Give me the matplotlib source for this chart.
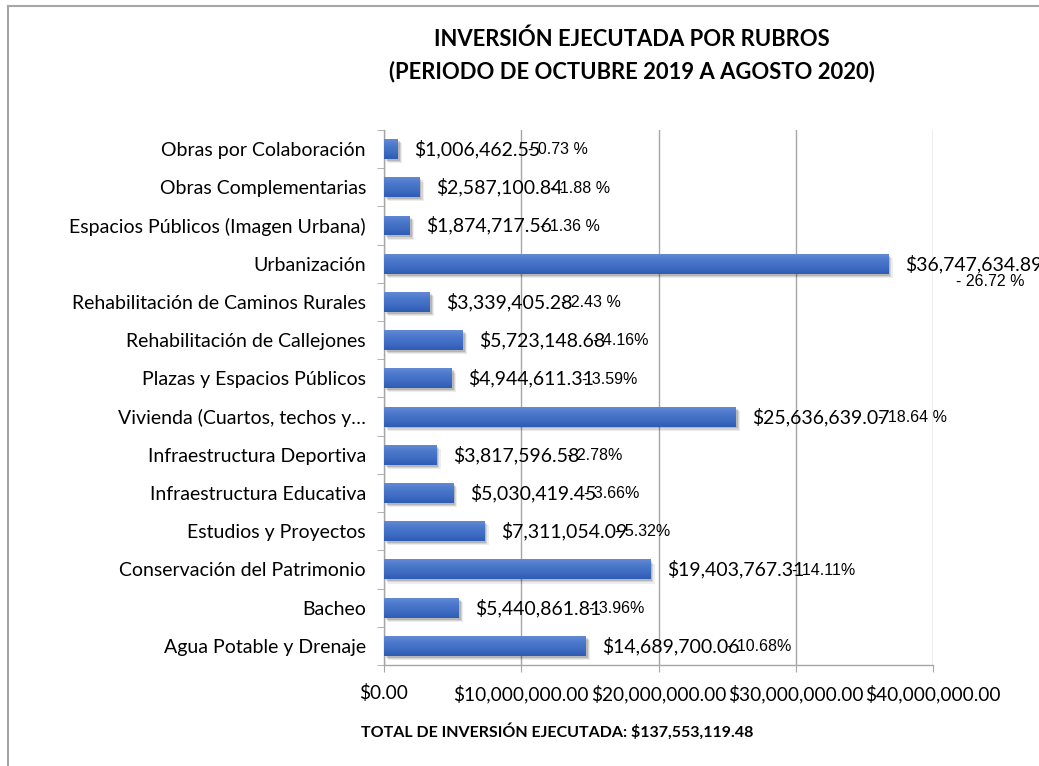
import matplotlib
matplotlib.use("Agg")
import matplotlib.pyplot as plt
import matplotlib.patheffects as pe
import numpy as np
from matplotlib.ticker import FixedLocator, FuncFormatter
from matplotlib.colors import LinearSegmentedColormap

categories = [
    "Obras por Colaboración",
    "Obras Complementarias",
    "Espacios Públicos (Imagen Urbana)",
    "Urbanización",
    "Rehabilitación de Caminos Rurales",
    "Rehabilitación de Callejones",
    "Plazas y Espacios Públicos",
    "Vivienda (Cuartos, techos y…",
    "Infraestructura Deportiva",
    "Infraestructura Educativa",
    "Estudios y Proyectos",
    "Conservación del Patrimonio",
    "Bacheo",
    "Agua Potable y Drenaje",
]
values = [
    1006462.55, 2587100.84, 1874717.56, 36747634.89, 3339405.28,
    5723148.68, 4944611.31, 25636639.07, 3817596.58, 5030419.45,
    7311054.09, 19403767.31, 5440861.81, 14689700.06,
]
value_labels = [
    "$1,006,462.55", "$2,587,100.84", "$1,874,717.56", "$36,747,634.89",
    "$3,339,405.28", "$5,723,148.68", "$4,944,611.31", "$25,636,639.07",
    "$3,817,596.58", "$5,030,419.45", "$7,311,054.09", "$19,403,767.31",
    "$5,440,861.81", "$14,689,700.06",
]
pct_labels = [
    "- 0.73 %", "- 1.88 %", "- 1.36 %", "- 26.72 %", "- 2.43 %", "- 4.16%",
    "- 3.59%", "- 18.64 %", "- 2.78%", "- 3.66%", "- 5.32%", "- 14.11%",
    "- 3.96%", "- 10.68%",
]
x_ticks = [0, 10000000, 20000000, 30000000, 40000000]
title = "INVERSIÓN EJECUTADA POR RUBROS\n(PERIODO DE OCTUBRE 2019 A AGOSTO 2020)"
footer = "TOTAL DE INVERSIÓN EJECUTADA: $137,553,119.48"

FONT = ["Lato", "DejaVu Sans"]
NARROW = ["Liberation Sans Narrow", "Liberation Sans", "DejaVu Sans"]
plt.rcParams["font.family"] = FONT

fig = plt.figure(figsize=(10.39, 7.66), dpi=100)
ax = fig.add_axes([0.3696, 0.1319, 0.8980 - 0.3696, 0.8303 - 0.1319])

n = len(categories)
ypos = np.arange(n)[::-1]
shadow = [
    pe.SimplePatchShadow(offset=(3.0, -3.0), shadow_rgbFace="#000000", alpha=0.07),
    pe.SimplePatchShadow(offset=(2.2, -2.2), shadow_rgbFace="#000000", alpha=0.10),
    pe.SimplePatchShadow(offset=(1.4, -1.4), shadow_rgbFace="#000000", alpha=0.14),
    pe.Normal(),
]
bars = ax.barh(ypos, values, height=0.52, color="#4472C4", zorder=3, path_effects=shadow)

ax.set_xlim(0, 40000000)
ax.set_ylim(-0.5, n - 0.5)

# gradient fill clipped to bars
cmap = LinearSegmentedColormap.from_list("g", ["#2F5CB4", "#3F6CC2", "#4A78CB", "#6489D5"])
grad = np.linspace(0, 1, 64).reshape(-1, 1)
for b in bars:
    x0, y0 = b.get_x(), b.get_y()
    w, h = b.get_width(), b.get_height()
    im = ax.imshow(grad, extent=[x0, x0 + w, y0, y0 + h], origin="lower",
                   cmap=cmap, aspect="auto", zorder=3.5, interpolation="bilinear")
    im.set_clip_path(b)
ax.set_xlim(0, 40000000)
ax.set_ylim(-0.5, n - 0.5)

# grid and spines
ax.grid(axis="x", color="#A6A6A6", linewidth=1.0, zorder=0)
for s in ["top", "right"]:
    ax.spines[s].set_visible(False)
for s in ["left", "bottom"]:
    ax.spines[s].set_color("#A6A6A6")
    ax.spines[s].set_linewidth(1.0)

ax.xaxis.set_major_locator(FixedLocator(x_ticks))
ax.xaxis.set_major_formatter(FuncFormatter(lambda v, p: "${:,.2f}".format(v)))
ax.tick_params(axis="x", direction="out", length=5, color="#A6A6A6", pad=9,
               labelsize=13.8, labelcolor="black")
ax.set_yticks(ypos)
ax.set_yticklabels(categories)
ax.tick_params(axis="y", which="major", length=0, pad=13, labelsize=14)
ax.yaxis.set_minor_locator(FixedLocator(np.arange(-0.5, n, 1.0)))
ax.tick_params(axis="y", which="minor", direction="out", length=5, color="#A6A6A6")

# data labels
for b, vl, pl in zip(bars, value_labels, pct_labels):
    yc = b.get_y() + b.get_height() / 2
    t = ax.annotate(vl, xy=(b.get_width(), yc), xytext=(12, 0), textcoords="offset points",
                    ha="left", va="center", fontsize=14, zorder=5, annotation_clip=False)
    if b.get_width() > 30000000:
        ax.annotate(pl, xy=(0.62, 0), xycoords=t, xytext=(0, -1), textcoords="offset points",
                    ha="center", va="top", fontsize=11.5, family=NARROW, zorder=5)
    else:
        ax.annotate(pl, xy=(1, 0.5), xycoords=t, xytext=(-9, -0.5), textcoords="offset points",
                    ha="left", va="center", fontsize=11.5, family=NARROW, zorder=5)

fig.text(0.608, 0.928, title, ha="center", va="center", fontsize=15.8,
         fontweight="bold", linespacing=1.6)
fig.text(0.536, 0.045, footer, ha="center", va="center", fontsize=11.5, fontweight="bold")

# outer frame (top and left edges)
fig.add_artist(plt.Line2D([0.0077, 0.0077], [0, 0.992], transform=fig.transFigure,
                          color="#A6A6A6", linewidth=1.5))
fig.add_artist(plt.Line2D([0.0077, 1.0], [0.992, 0.992], transform=fig.transFigure,
                          color="#A6A6A6", linewidth=1.5))

fig.savefig("out.png", dpi=100)
